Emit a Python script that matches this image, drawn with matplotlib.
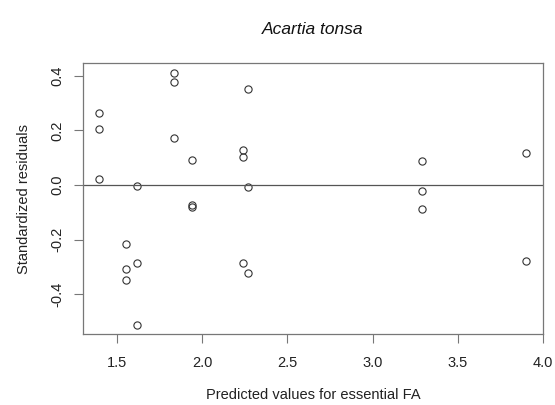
import matplotlib
matplotlib.use("Agg")
import matplotlib.pyplot as plt

plt.rcParams['font.family'] = ['Liberation Sans', 'DejaVu Sans']

predicted = [1.394, 1.394, 1.394, 1.618, 1.553, 1.553, 1.553, 1.618, 1.618,
             1.833, 1.833, 1.833, 1.937, 1.937, 1.937, 2.239, 2.239, 2.270,
             2.270, 2.239, 2.270, 3.292, 3.292, 3.292, 3.898, 3.898]
residuals = [0.264, 0.205, 0.023, -0.002, -0.215, -0.306, -0.348, -0.287, -0.512,
             0.411, 0.379, 0.172, 0.090, -0.075, -0.081, 0.129, 0.101, 0.351,
             -0.008, -0.287, -0.321, 0.087, -0.021, -0.089, 0.117, -0.278]
xticks = [1.5, 2.0, 2.5, 3.0, 3.5, 4.0]
yticks = [-0.4, -0.2, 0.0, 0.2, 0.4]

fig = plt.figure(figsize=(5.55, 4.05), dpi=100)
ax = fig.add_axes([83/555, 1 - 334/405, (543-83)/555, (334-63)/405])
ax.plot(predicted, residuals, linestyle='none', marker='o', markersize=5.2,
        markerfacecolor='none', markeredgecolor='#333333', markeredgewidth=0.8)
ax.axhline(0, color='#555555', linewidth=0.9)
ax.set_xlim(1.30, 4.00)
ax.set_ylim(-0.546, 0.447)
ax.set_xticks(xticks)
ax.set_xticklabels([f"{v:.1f}" for v in xticks])
ax.set_yticks(yticks)
ax.set_yticklabels([f"{v:.1f}" for v in yticks], rotation=90, va='center')
for s in ax.spines.values():
    s.set_color('#777777')
    s.set_linewidth(0.9)
ax.tick_params(direction='out', length=6.5, width=0.8, color='#777777',
               labelsize=10.5, labelcolor='#222222')
ax.tick_params(axis='x', pad=9)
ax.tick_params(axis='y', pad=7)
ax.set_xlabel("Predicted values for essential FA", fontsize=10.5, color='#222222', va='center')
ax.xaxis.set_label_coords(0.5, (334-395)/271)
ax.set_ylabel("Standardized residuals", fontsize=10.5, color='#222222', va='center')
ax.yaxis.set_label_coords((24-83)/460, 0.5)
ax.set_title("Acartia tonsa", fontstyle='italic', fontsize=12.5, color='#111111',
             y=(334-29)/271, va='center', pad=0)
fig.savefig("out.png", dpi=100, facecolor='white')
